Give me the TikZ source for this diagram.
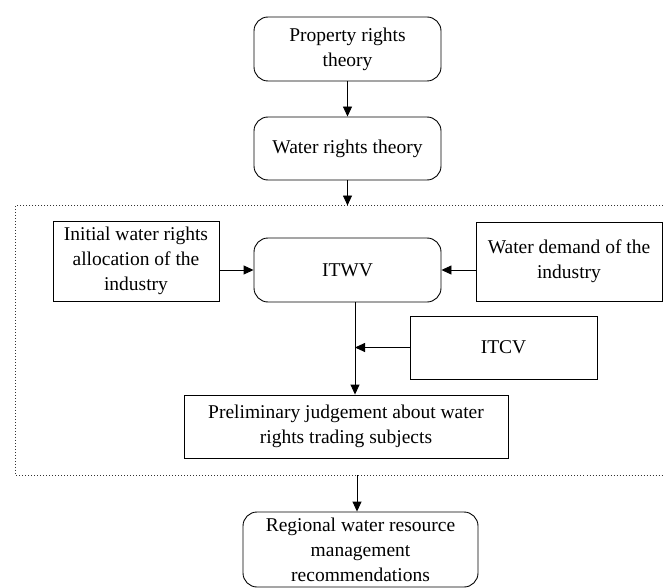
\documentclass[tikz,border=0pt]{standalone}
\usepackage{fontspec}
\setmainfont{Liberation Serif}
\usetikzlibrary{arrows.meta}
\begin{document}
\begin{tikzpicture}[x=1pt,y=-1pt,
  base/.style={draw=black, line width=0.9pt, inner sep=0pt, align=center,
    font=\fontsize{19.5}{25}\selectfont},
  rbox/.style={base, rounded corners=14pt},
  sbox/.style={base},
  arr/.style={line width=0.9pt, -{Triangle[length=10pt,width=9pt]}},
  dotbox/.style={line width=0.8pt, dash pattern=on 0.8pt off 2.2pt, black!80}]
\useasboundingbox (0,0) rectangle (663,588);
% nodes
\node[rbox, minimum width=187pt, minimum height=64pt] (prop) at (347.5,49) {Property rights\\theory};
\node[rbox, minimum width=187pt, minimum height=63pt] (wrt) at (347.5,148.5) {Water rights theory};
\node[sbox, minimum width=166pt, minimum height=80pt] (init) at (136,261) {Initial water rights\\allocation of the\\industry};
\node[rbox, minimum width=187pt, minimum height=64pt] (itwv) at (347.5,270) {ITWV};
\node[sbox, minimum width=186pt, minimum height=79pt] (wd) at (569,261.5) {Water demand of the\\industry};
\node[sbox, minimum width=187pt, minimum height=63pt] (itcv) at (503.5,347.5) {ITCV};
\node[sbox, minimum width=324pt, minimum height=63pt] (prelim) at (346,426.5) {Preliminary judgement about water\\rights trading subjects};
\node[rbox, minimum width=235pt, minimum height=75pt] (reg) at (360.5,549.5) {Regional water resource\\management\\recommendations};
% dotted frame
\coordinate (dtr) at (663,205.5);
\coordinate (dtl) at (15.5,205.5);
\coordinate (dbl) at (15.5,475);
\coordinate (dbr) at (663,475);
\draw[dotbox] (dtr) -- (dtl) -- (dbl) -- (dbr);
% connectors
\draw[arr] (prop) -- (wrt);
\draw[arr] (wrt.south) -- (wrt.south |- dtl);
\draw[arr] (init.east |- itwv.west) -- (itwv.west);
\draw[arr] (wd.west |- itwv.east) -- (itwv.east);
\coordinate (j) at ([xshift=7.5pt]itwv.south);
\draw[arr] (j) -- (j |- prelim.north);
\draw[arr] (itcv.west) -- (j |- itcv.west);
\coordinate (k) at ([xshift=-3.5pt]reg.north);
\draw[arr] (k |- dbl) -- (k);
\end{tikzpicture}
\end{document}
